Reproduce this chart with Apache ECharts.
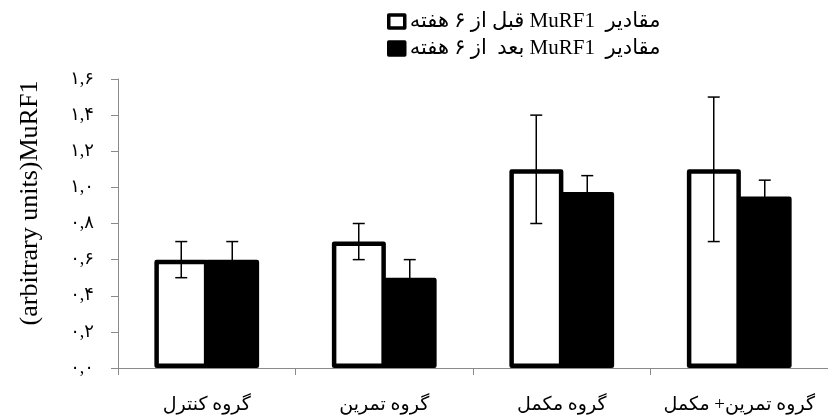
<!DOCTYPE html>
<html><head><meta charset="utf-8">
<script src="https://cdn.jsdelivr.net/npm/echarts@6/dist/echarts.min.js"></script>
<style>html,body{margin:0;padding:0;background:#fff}#c{width:828px;height:419px}</style>
</head><body><div id="c"></div>
<script>
const categories = ['گروه کنترل', 'گروه تمرین', 'گروه مکمل', 'گروه تمرین+ مکمل'];
const seriesNames = ['مقادیر  MuRF1 قبل از ۶ هفته', 'مقادیر  MuRF1 بعد  از ۶ هفته'];
const beforeValues = [0.6, 0.7, 1.1, 1.1];
const beforeErrors = [0.1, 0.1, 0.3, 0.4];
const afterValues = [0.6, 0.5, 0.975, 0.95];
const afterErrors = [0.1, 0.1, 0.09, 0.09];
const yTickLabels = ['۰,۰', '۰,۲', '۰,۴', '۰,۶', '۰,۸', '۱,۰', '۱,۲', '۱,۴', '۱,۶'];
const yAxisTitle = '(arbitrary units)MuRF1';

const FONT = "'Liberation Serif', 'DejaVu Sans', serif";
const BAR_W = 54;
const AXIS_COLOR = '#8a8a8a';
const rtl = s => '\u202B' + s + '\u202C';

function errorSeries(values, errors, side) {
  return {
    type: 'custom',
    silent: true,
    z: 10,
    encode: { x: 0, y: [1, 2] },
    data: values.map((v, i) => [i, v - errors[i], v + errors[i]]),
    renderItem: function (params, api) {
      const i = api.value(0);
      const lo = api.coord([i, api.value(1)]);
      const hi = api.coord([i, api.value(2)]);
      const x = lo[0] + side * 25.5;
      const cap = 6;
      const st = { stroke: '#000', lineWidth: 1.5, fill: null };
      return {
        type: 'group',
        children: [
          { type: 'line', shape: { x1: x, y1: lo[1], x2: x, y2: hi[1] }, style: st },
          { type: 'line', shape: { x1: x - cap, y1: hi[1], x2: x + cap, y2: hi[1] }, style: st },
          { type: 'line', shape: { x1: x - cap, y1: lo[1], x2: x + cap, y2: lo[1] }, style: st }
        ]
      };
    }
  };
}

const chart = echarts.init(document.getElementById('c'), null, { renderer: 'canvas' });
chart.setOption({
  animation: false,
  backgroundColor: '#fff',
  textStyle: { fontFamily: FONT },
  grid: { left: 118, top: 79, width: 712, height: 289, containLabel: false },
  legend: {
    orient: 'vertical',
    left: 382,
    top: 6,
    padding: 5,
    itemGap: 6,
    itemWidth: 16,
    itemHeight: 13,
    icon: 'rect',
    selectedMode: false,
    textStyle: { fontSize: 21, fontFamily: FONT, color: '#000' },
    formatter: n => rtl(n),
    data: [
      { name: seriesNames[0], itemStyle: { color: '#fff', borderColor: '#000', borderWidth: 3.5 } },
      { name: seriesNames[1], itemStyle: { color: '#000', borderColor: '#000', borderWidth: 3.5 } }
    ]
  },
  xAxis: {
    type: 'category',
    data: categories,
    axisLine: { lineStyle: { color: AXIS_COLOR, width: 1 } },
    axisTick: { show: true, length: 7, lineStyle: { color: AXIS_COLOR } },
    axisLabel: { interval: 0, hideOverlap: false, fontSize: 19, color: '#000', fontFamily: FONT, margin: 28, formatter: v => rtl(v) },
    splitLine: { show: false }
  },
  yAxis: {
    type: 'value',
    min: 0,
    max: 1.6,
    interval: 0.2,
    axisLine: { show: true, lineStyle: { color: AXIS_COLOR, width: 1 } },
    axisTick: { show: true, length: 7, lineStyle: { color: AXIS_COLOR } },
    axisLabel: { fontSize: 18, color: '#000', fontFamily: FONT, margin: 24,
      formatter: v => yTickLabels[Math.round(v / 0.2)] },
    splitLine: { show: false }
  },
  graphic: [{
    type: 'text',
    x: 30,
    y: 203,
    rotation: Math.PI / 2,
    style: { text: yAxisTitle, fontSize: 26, fontFamily: FONT, fill: '#000', align: 'center', verticalAlign: 'middle' }
  }],
  series: [
    {
      name: seriesNames[0], type: 'bar', data: beforeValues, barWidth: BAR_W, barGap: '-6%',
      itemStyle: { color: '#fff', borderColor: '#000', borderWidth: 4.5, borderJoin: 'round' }
    },
    {
      name: seriesNames[1], type: 'bar', data: afterValues, barWidth: BAR_W, barGap: '-6%',
      itemStyle: { color: '#000', borderColor: '#000', borderWidth: 4.5, borderJoin: 'round' }
    },
    errorSeries(beforeValues, beforeErrors, -1),
    errorSeries(afterValues, afterErrors, 1)
  ]
});
</script>
</body></html>
